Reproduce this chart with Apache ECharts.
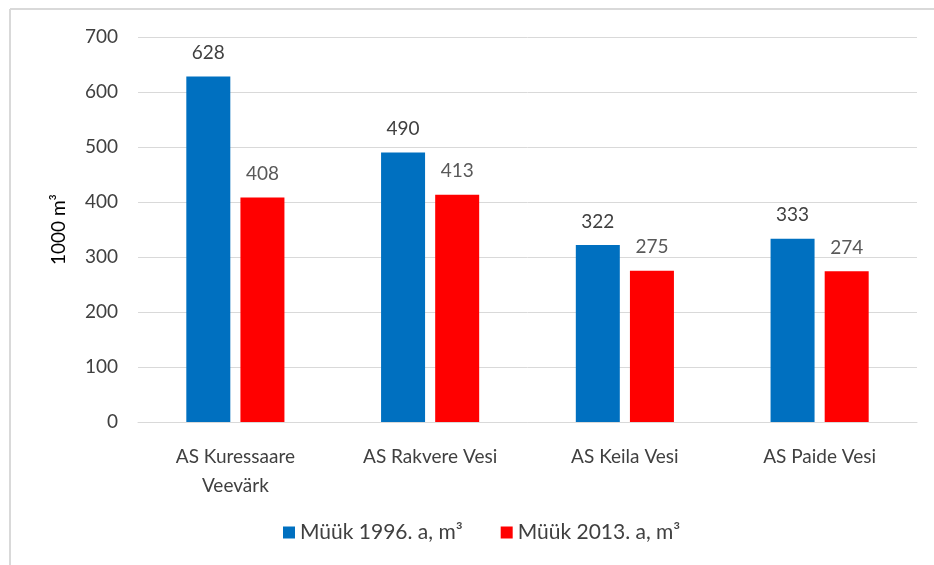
<!DOCTYPE html>
<html>
<head>
<meta charset="utf-8">
<style>
  html, body { margin: 0; padding: 0; background: #fff; }
  #chart { width: 934px; height: 565px; }
</style>
<script src="https://cdn.jsdelivr.net/npm/echarts@6/dist/echarts.min.js"></script>
</head>
<body>
<div id="chart"></div>
<script>
// andmed
var categories = ["AS Kuressaare\nVeevärk", "AS Rakvere Vesi", "AS Keila Vesi", "AS Paide Vesi"];
var seriesNames = ["Müük 1996. a, m³", "Müük 2013. a, m³"];
var sales1996 = [628, 490, 322, 333];
var sales2013 = [408, 413, 275, 274];
var yTicks = [0, 700, 100]; // min, max, samm

(function() {
  var myChart = echarts.init(document.getElementById("chart"));
  var font = "Lato, 'Noto Sans', sans-serif";

  var option = {
    animation: false,
    textStyle: { fontFamily: font },
    // raam ümber
    graphic: [
      { type: "line", shape: { x1: 10, y1: 9, x2: 934, y2: 9 }, style: { stroke: "#d9d9d9", lineWidth: 2 } },
      { type: "line", shape: { x1: 10, y1: 9, x2: 10, y2: 565 }, style: { stroke: "#d9d9d9", lineWidth: 2 } }
    ],
    grid: { left: 138, right: 17, top: 37, bottom: 143 },
    legend: {
      bottom: 17,
      left: 278,
      itemWidth: 12,
      itemHeight: 12,
      itemGap: 38,
      icon: "rect",
      textStyle: { fontSize: 21, color: "#404040", fontFamily: font }
    },
    xAxis: {
      type: "category",
      data: categories,
      axisTick: { show: false },
      axisLine: { lineStyle: { color: "#d9d9d9", width: 1 } },
      axisLabel: { fontSize: 19, color: "#404040", margin: 20, lineHeight: 29, fontFamily: font }
    },
    yAxis: {
      type: "value",
      min: yTicks[0],
      max: yTicks[1],
      interval: yTicks[2],
      name: "1000 m³",
      nameLocation: "middle",
      nameGap: 70,
      nameTextStyle: { fontSize: 19, color: "#000", fontFamily: font },
      axisLine: { show: false },
      axisTick: { show: false },
      axisLabel: { fontSize: 19, color: "#404040", margin: 20, fontFamily: font },
      splitLine: { lineStyle: { color: "#d9d9d9" } }
    },
    series: [
      {
        name: seriesNames[0],
        type: "bar",
        data: sales1996,
        barWidth: 44,
        barGap: "23%",
        itemStyle: { color: "#0070c0" },
        label: { show: true, position: "top", distance: 14, fontSize: 19, color: "#404040", fontFamily: font }
      },
      {
        name: seriesNames[1],
        type: "bar",
        data: sales2013,
        barWidth: 44,
        itemStyle: { color: "#ff0000" },
        label: { show: true, position: "top", distance: 14, fontSize: 19, color: "#595959", fontFamily: font }
      }
    ]
  };

  myChart.setOption(option);
  window.addEventListener("resize", function() {
    myChart.resize();
  });
})();
</script>
</body>
</html>
